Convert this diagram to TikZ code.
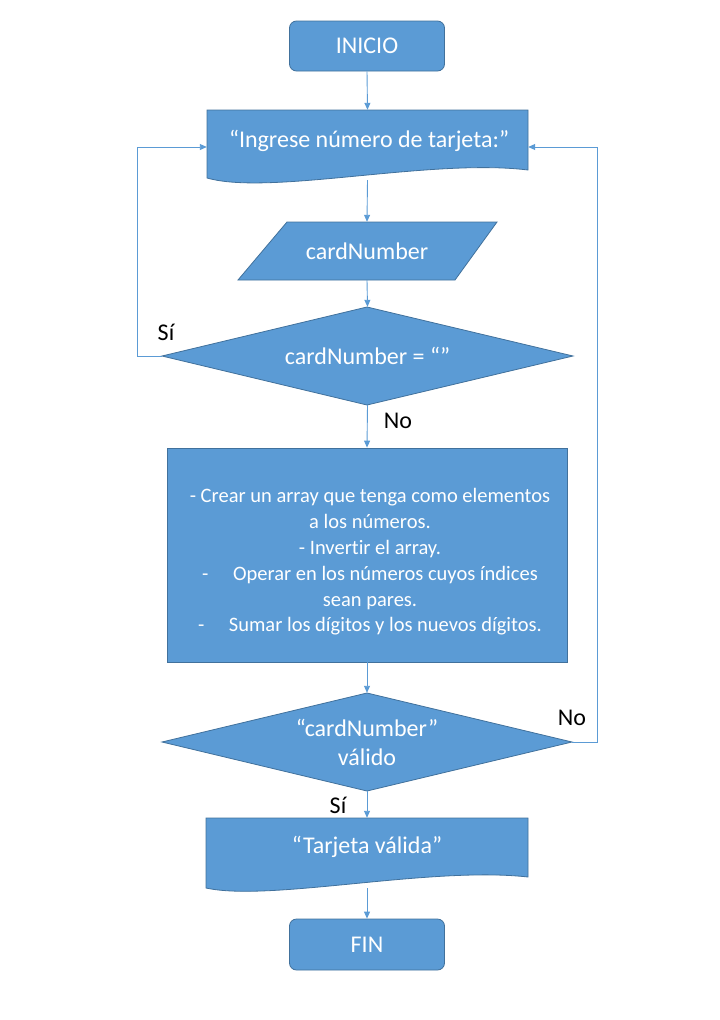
\documentclass[tikz,border=0pt]{standalone}
\usepackage{fontspec}
\setmainfont[Ligatures=NoCommon]{Carlito}
\usetikzlibrary{arrows.meta,shapes.geometric}
\definecolor{boxfill}{HTML}{5B9BD5}
\definecolor{boxline}{HTML}{41719C}
\definecolor{conn}{HTML}{5B9BD5}
\begin{document}
\begin{tikzpicture}[x=1pt,y=-1pt,
  shapeline/.style={fill=boxfill,draw=boxline,line width=0.8pt},
  txt/.style={text=white,font=\fontsize{24}{28}\selectfont,align=center,inner sep=0pt},
  lbl/.style={text=black,font=\fontsize{24}{28}\selectfont,inner sep=0pt},
  conn/.style={draw=conn,line width=0.9pt,-{Triangle[length=7pt,width=6pt]}},
  plain/.style={draw=conn,line width=0.9pt}]
\useasboundingbox (0,0) rectangle (720,1020);
% INICIO
\node[shapeline,rounded corners=7pt,minimum width=155pt,minimum height=50pt,txt] (ini) at (367,46) {INICIO};
% Document 1
\path[shapeline] (207,110) -- (528,110) -- (528,170) .. controls (430,158) and (270,196) .. (207,178) -- cycle;
\node[txt,minimum width=321pt,minimum height=70pt] (ing) at (367.5,145) {};
\node[txt] at (369,141) {“Ingrese número de tarjeta:”};
% Parallelogram
\path[shapeline] (287,222) -- (497,222) -- (455,280) -- (238,280) -- cycle;
\node[txt,minimum width=210pt,minimum height=58pt] (card) at (367,251) {cardNumber};
% Diamond 1
\path[shapeline] (367,307) -- (573,356) -- (367,405) -- (162,356) -- cycle;
\node[txt,minimum width=411pt,minimum height=98pt] (d1) at (367.5,356) {};
\node[txt] at (367.5,356) {cardNumber = “”};
% Process
\node[shapeline,minimum width=400pt,minimum height=214pt] (proc) at (367,555) {};
\node[txt,font=\fontsize{20.5}{25.8}\selectfont] at (370,562) {- Crear un array que tenga como elementos\\a los números.\\- Invertir el array.\\-\hspace{1.2em}Operar en los números cuyos índices\\sean pares.\\-\hspace{1.2em}Sumar los dígitos y los nuevos dígitos.};
% Diamond 2
\path[shapeline] (367,693) -- (572,742) -- (367,791) -- (162,742) -- cycle;
\node[txt,minimum width=410pt,minimum height=98pt] (d2) at (367,742) {};
\node[txt,font=\fontsize{24}{29}\selectfont] at (367,742) {“cardNumber”\\válido};
% Document 2
\path[shapeline] (206,818) -- (528,818) -- (528,877) .. controls (430,866) and (270,902) .. (206,888) -- cycle;
\node[txt,minimum width=322pt,minimum height=70pt] (tv) at (367,853) {};
\node[txt] at (367,847) {“Tarjeta válida”};
% FIN
\node[shapeline,rounded corners=7pt,minimum width=155pt,minimum height=51pt,txt] (fin) at (367,944.5) {FIN};
% Connectors
\draw[conn] (ini.south) -- (ing.north);
\draw[conn] (ing.south) -- (card.north);
\draw[conn] (card.south) -- (d1.north);
\draw[conn] (d1.south) -- (proc.north);
\draw[conn] (proc.south) -- (d2.north);
\draw[conn] (d2.south) -- (tv.north);
\draw[conn] (tv.south) -- (fin.north);
\coordinate (lb) at (137,356);
\coordinate (lt) at (137,147);
\draw[conn] (d1.west) -- (lb) -- (lt) -- (ing.west |- lt);
\coordinate (rb) at (597,742);
\coordinate (rt) at (597,147);
\draw[conn] (d2.east) -- (rb) -- (rt) -- (ing.east |- rt);
% Labels
\node[lbl] (si1) at (166,332) {Sí};
\node[lbl] (no1) at (398,421) {No};
\node[lbl] (no2) at (572,718) {No};
\node[lbl] (si2) at (338,805) {Sí};
\end{tikzpicture}
\end{document}
